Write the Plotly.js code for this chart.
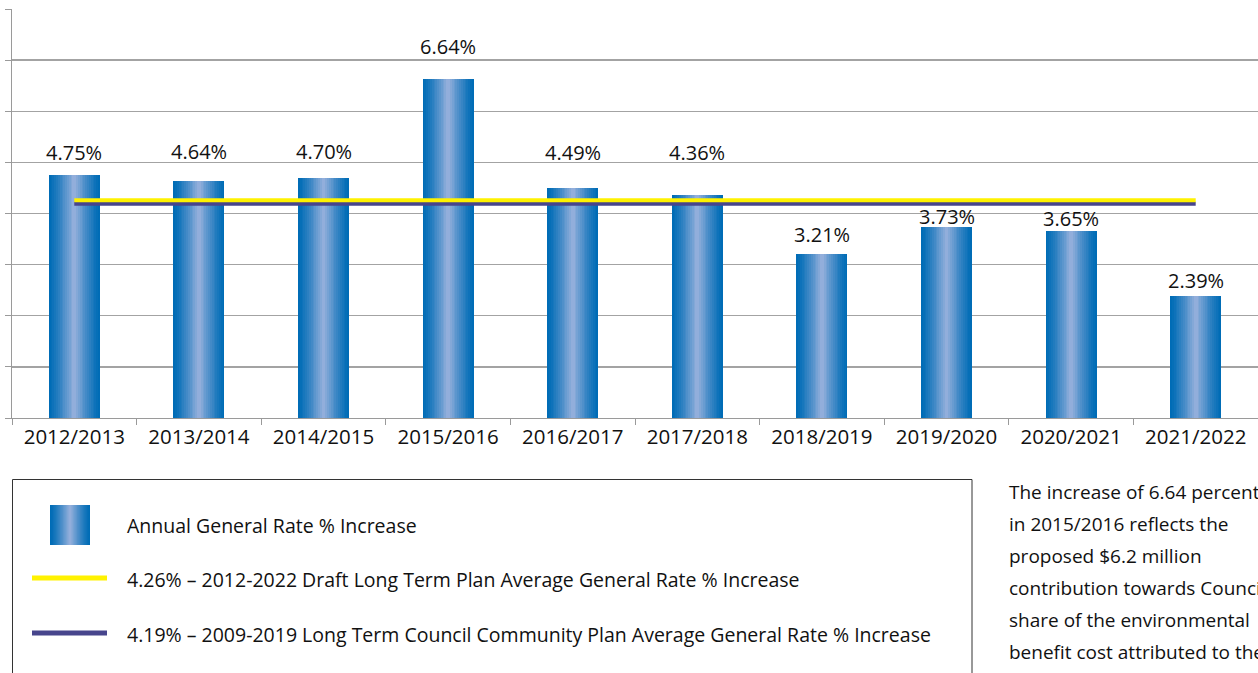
<!DOCTYPE html>
<html>
<head>
<meta charset="utf-8">
<script src="https://cdn.plot.ly/plotly-3.0.1.min.js"></script>
<style>
  html, body { margin: 0; padding: 0; background: #fff; }
  #chart { width: 1258px; height: 673px; }
</style>
</head>
<body>
<div id="chart"></div>
<script>
// ---- data ----
const categories = ['2012/2013', '2013/2014', '2014/2015', '2015/2016', '2016/2017',
                    '2017/2018', '2018/2019', '2019/2020', '2020/2021', '2021/2022'];
const rateIncrease = [4.75, 4.64, 4.70, 6.64, 4.49, 4.36, 3.21, 3.73, 3.65, 2.39];
const draftPlanAverage = 4.26;   // 2012-2022 Draft Long Term Plan
const ltccpAverage = 4.19;       // 2009-2019 Long Term Council Community Plan
const legendLabels = [
  'Annual General Rate % Increase',
  '4.26% \u2013 2012-2022 Draft Long Term Plan Average General Rate % Increase',
  '4.19% \u2013 2009-2019 Long Term Council Community Plan Average General Rate % Increase'
];
const noteLines = [
  'The increase of 6.64 percent',
  'in 2015/2016 reflects the',
  'proposed $6.2 million',
  'contribution towards Council\u2019s',
  'share of the environmental',
  'benefit cost attributed to the'
];

// ---- styling / layout ----
const W = 1258, H = 673;
const M = {l: 12, r: 0, t: 9, b: 255};
const plotW = W - M.l - M.r, plotH = H - M.t - M.b;
const px2x = px => (px - M.l) / plotW;
const px2y = py => (H - M.b - py) / plotH;

const FONT = 'Open Sans, Noto Sans, sans-serif';
const DARK = [0, 108, 182], LIGHT = [146, 174, 219];
const YELLOW = '#fff200', PURPLE = '#47458c';
const mix = t => 'rgb(' + DARK.map((d, i) => Math.round(d + (LIGHT[i] - d) * t)).join(',') + ')';

// label pixel lift above each bar top (layout only)
const labelLift = [23, 29, 26, 32, 36, 43, 19, 11, 13, 15];

const traces = [];
const N = 14, BAR_W = 0.41;
for (let i = 0; i < N; i++) {
  const t = Math.pow(i / (N - 1), 1.25);
  traces.push({
    type: 'bar', x: categories, y: rateIncrease,
    width: BAR_W * (1 - i / N),
    marker: {color: mix(t), line: {width: 0}},
    hoverinfo: 'skip', showlegend: false
  });
}
traces.push({
  type: 'scatter', mode: 'lines', x: categories,
  y: categories.map(() => ltccpAverage),
  line: {color: PURPLE, width: 4}, hoverinfo: 'skip', showlegend: false
});
traces.push({
  type: 'scatter', mode: 'lines', x: categories,
  y: categories.map(() => draftPlanAverage),
  line: {color: YELLOW, width: 4}, hoverinfo: 'skip', showlegend: false
});

const annotations = categories.map((c, i) => ({
  x: c, y: rateIncrease[i], xref: 'x', yref: 'y',
  text: rateIncrease[i].toFixed(2) + '%', showarrow: false,
  yanchor: 'middle', yshift: labelLift[i],
  font: {family: FONT, size: 20, color: '#111'}
}));

// legend texts
const legendY = [525, 579, 634];
legendLabels.forEach((txt, i) => annotations.push({
  xref: 'paper', yref: 'paper', x: px2x(125), y: px2y(legendY[i]),
  xanchor: 'left', yanchor: 'middle', text: txt, showarrow: false,
  font: {family: FONT, size: 19.5, color: '#111'}
}));
// side note
noteLines.forEach((txt, i) => annotations.push({
  xref: 'paper', yref: 'paper', x: px2x(1007), y: px2y(492 + 32 * i),
  xanchor: 'left', yanchor: 'middle', text: txt, showarrow: false,
  font: {family: FONT, size: 19, color: '#111'}
}));

const shapes = [];
// legend frame
shapes.push({type: 'rect', xref: 'paper', yref: 'paper',
  x0: px2x(12.5), x1: px2x(972), y0: px2y(479.5), y1: px2y(700),
  line: {color: '#333', width: 1}, fillcolor: 'rgba(0,0,0,0)'});
// legend gradient swatch
const sx0 = 50, sx1 = 90, sy0 = 505, sy1 = 545;
for (let i = 0; i < N; i++) {
  const t = Math.pow(i / (N - 1), 1.25);
  const half = (sx1 - sx0) / 2 * (1 - i / N);
  const cx = (sx0 + sx1) / 2;
  shapes.push({type: 'rect', xref: 'paper', yref: 'paper',
    x0: px2x(cx - half), x1: px2x(cx + half), y0: px2y(sy1), y1: px2y(sy0),
    line: {width: 0}, fillcolor: mix(t)});
}
// legend lines
shapes.push({type: 'line', xref: 'paper', yref: 'paper',
  x0: px2x(32), x1: px2x(107), y0: px2y(578), y1: px2y(578),
  line: {color: YELLOW, width: 5}});
shapes.push({type: 'line', xref: 'paper', yref: 'paper',
  x0: px2x(32), x1: px2x(107), y0: px2y(633), y1: px2y(633),
  line: {color: PURPLE, width: 5}});

const layout = {
  width: W, height: H,
  margin: M,
  paper_bgcolor: '#fff', plot_bgcolor: '#fff',
  barmode: 'overlay', bargap: 0,
  showlegend: false,
  font: {family: FONT, color: '#111'},
  xaxis: {
    type: 'category', showline: true, linecolor: '#9a9a9a', linewidth: 1.2,
    ticks: 'outside', tickson: 'boundaries', ticklen: 6, tickcolor: '#9a9a9a',
    tickfont: {family: FONT, size: 20.5, color: '#111'},
    showgrid: false, fixedrange: true
  },
  yaxis: {
    range: [0, 8], dtick: 1, showticklabels: false,
    showline: true, linecolor: '#9a9a9a', linewidth: 1.2,
    ticks: 'outside', ticklen: 6, tickcolor: '#9a9a9a',
    showgrid: true, gridcolor: '#a3a3a3', gridwidth: 1.3,
    zeroline: false, fixedrange: true
  },
  annotations: annotations,
  shapes: shapes
};

Plotly.newPlot('chart', traces, layout, {displayModeBar: false, staticPlot: true});
</script>
</body>
</html>
